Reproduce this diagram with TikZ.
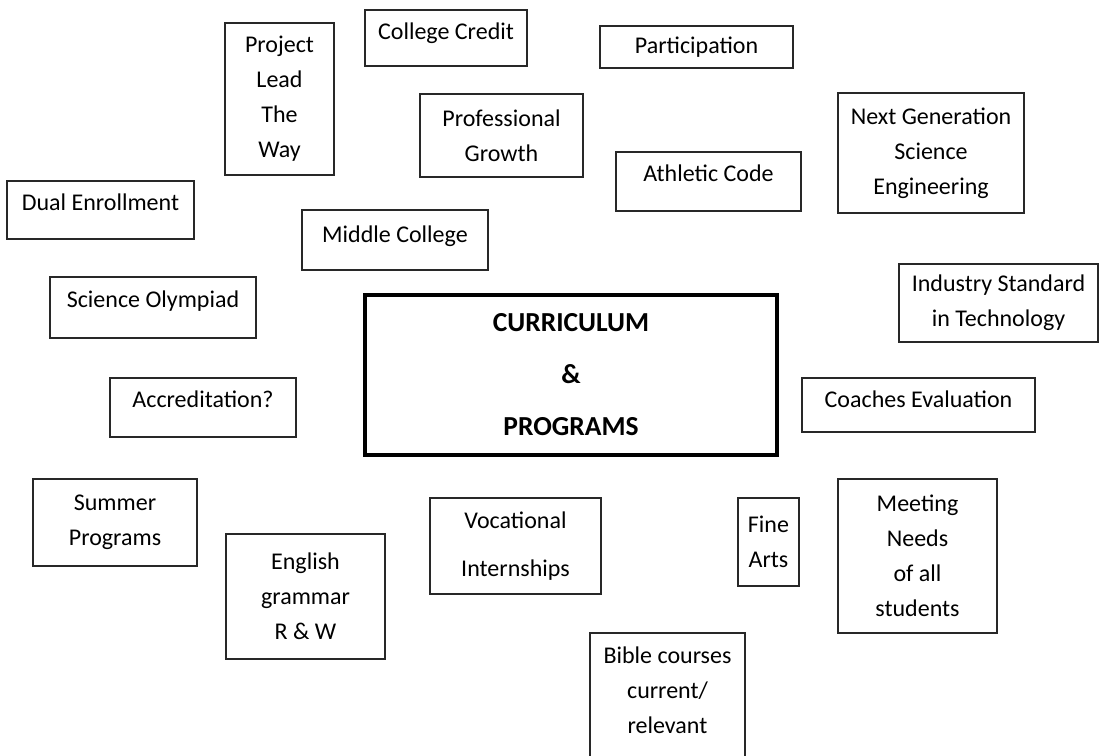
\documentclass[tikz,border=0pt]{standalone}
\usepackage{fontspec}
\setmainfont{Carlito}
\usepackage{tikz}
\definecolor{boxline}{RGB}{40,40,40}

\begin{document}
\begin{tikzpicture}[x=1pt,y=-1pt]
	\tikzset{box/.style={draw=boxline,line width=1.2pt,rectangle,inner sep=2pt,align=center,font=\fontsize{24}{35}\selectfont}}
	\tikzset{oneline/.style={text height=17pt,text depth=#1},oneline/.default=17pt}
	\tikzset{core/.style={box,draw=black,line width=3.5pt,font=\fontsize{27.5}{35}\selectfont\bfseries}}
	
	\useasboundingbox (0,0) rectangle (1103,755);
	
	% centre
	\node(core) at (571,375) [core,minimum width=412,minimum height=160] {CURRICULUM\\[17pt]\&\\[17pt]PROGRAMS};
	
	% top row
	\node(plt) at (279.5,99) [box,minimum width=109,minimum height=152] {Project\\Lead\\The\\Way};
	\node(credit) at (446,38) [box,oneline=15pt,minimum width=162,minimum height=56] {College Credit};
	\node(particip) at (696.5,47) [box,minimum width=193,minimum height=42] {Participation};
	\node(growth) at (501.5,135.5) [box,minimum width=163,minimum height=83] {Professional\\Growth};
	\node(athletic) at (708.5,181.5) [box,oneline,minimum width=185,minimum height=59] {Athletic Code};
	\node(nextgen) at (931,153) [box,minimum width=186,minimum height=120] {Next Generation\\Science\\Engineering};
	
	% left side
	\node(dual) at (100.5,210) [box,oneline,minimum width=187,minimum height=58] {Dual Enrollment};
	\node(middle) at (395,240) [box,oneline=13pt,minimum width=186,minimum height=60] {Middle College};
	\node(olymp) at (153,307.5) [box,oneline,minimum width=206,minimum height=61] {Science Olympiad};
	\node(accred) at (203,407.5) [box,oneline,minimum width=186,minimum height=59] {Accreditation?};
	
	% right side
	\node(industry) at (998.5,303) [box,minimum width=199,minimum height=78] {Industry Standard\\in Technology};
	\node(coaches) at (918.5,405) [box,oneline=13pt,minimum width=233,minimum height=54] {Coaches Evaluation};
	
	% bottom row
	\node(summer) at (115,522.5) [box,minimum width=164,minimum height=87] {Summer\\Programs};
	\node(english) at (305.5,596.5) [box,minimum width=159,minimum height=125] {English\\grammar\\R \& W};
	\node(vocat) at (515.5,546) [box,minimum width=171,minimum height=96] {Vocational\\[13pt]Internships};
	\node(finearts) at (768.5,542) [box,minimum width=61,minimum height=88] {Fine\\Arts};
	\node(meeting) at (917.5,556) [box,minimum width=159,minimum height=154] {Meeting\\Needs\\of all\\students};
	\node(bible) at (667.5,698) [box,text height=85pt,text depth=15pt,minimum width=155,minimum height=130] {Bible courses\\current/\\relevant};
	
\end{tikzpicture}
\end{document}
